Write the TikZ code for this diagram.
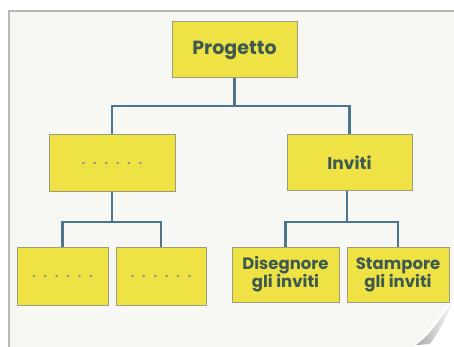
\documentclass[tikz,border=0pt]{standalone}
\usepackage{fontspec}
\setmainfont{Poppins}
\definecolor{boxy}{HTML}{EEE244}
\definecolor{boxline}{HTML}{9C9C7E}
\definecolor{conn}{HTML}{4E7590}
\definecolor{txt}{HTML}{3E5A50}
\definecolor{paper}{HTML}{F7F7F3}
\definecolor{rule}{HTML}{B8B8B4}
\newcommand{\dotrow}{\color{txt!65}\fontsize{12}{14}\selectfont .\hspace{8pt}.\hspace{8pt}.\hspace{8pt}.\hspace{8pt}.\hspace{8pt}.}
\begin{document}
\begin{tikzpicture}[x=1pt,y=-1pt,
  ybox/.style={draw=boxline,line width=1pt,fill=boxy,inner sep=0pt,align=center,
    text=txt,font=\fontsize{16.5}{18}\selectfont\bfseries},
  link/.style={draw=conn,line width=2.2pt}]
\useasboundingbox (0,0) rectangle (454,347);
\fill[white] (0,0) rectangle (454,347);
\fill[paper] (9,11) rectangle (454,347);
\draw[rule,line width=1.2pt] (9,347) -- (9,11) -- (454,11);
% folded corner
\fill[white] (454,298) -- (454,347) -- (414,347) -- cycle;
\shade[left color=gray!70,right color=white] (454,298) .. controls (440,320) and (430,335) .. (416,345) -- (430,344) .. controls (440,330) and (448,315) .. (454,298) -- cycle;
% nodes
\node[ybox,minimum width=125pt,minimum height=56pt,font=\fontsize{19}{21}\selectfont\bfseries] (p) at (234.5,50) {Progetto};
\node[ybox,minimum width=126pt,minimum height=56pt] (a) at (112,163) {\dotrow};
\node[ybox,minimum width=125pt,minimum height=55pt,font=\fontsize{17}{19}\selectfont\bfseries] (b) at (349.5,162.5) {Inviti};
\node[ybox,minimum width=91pt,minimum height=58pt] (a1) at (62.5,276) {\dotrow};
\node[ybox,minimum width=90pt,minimum height=58pt] (a2) at (161,276) {\dotrow};
\node[ybox,minimum width=107pt,minimum height=55pt] (b1) at (285.5,274.5) {Disegnore\\gli inviti};
\node[ybox,minimum width=102pt,minimum height=55pt] (b2) at (398,274.5) {Stampore\\gli inviti};
% connectors
\coordinate (j0) at (234.5,106);
\coordinate (ja) at (112,222);
\coordinate (jb) at (347,222);
\draw[link] (p.south) -- (j0);
\draw[link] (a.north) |- (j0) -| (b.north);
\draw[link] (a.south) -- (ja);
\draw[link] (a1.north) |- (ja) -| (a2.north);
\draw[link] (b.south -| jb) -- (jb);
\draw[link] (b1.north) |- (jb) -| (b2.north);
\end{tikzpicture}
\end{document}
